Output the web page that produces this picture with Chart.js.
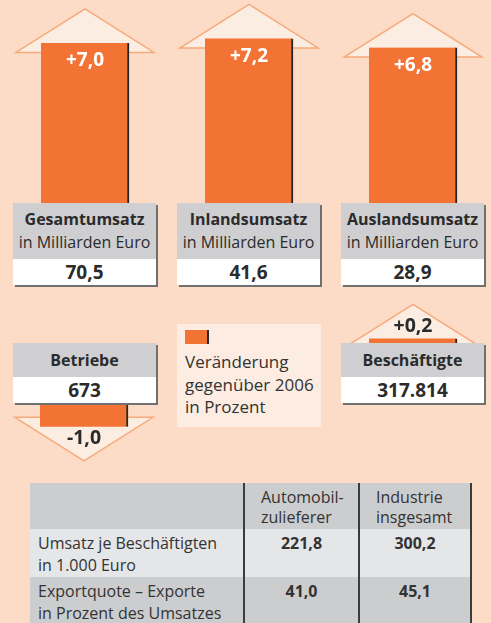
<!DOCTYPE html>
<html lang="de">
<head>
<meta charset="utf-8">
<script src="https://cdn.jsdelivr.net/npm/chart.js@4"></script>
<style>
  body { margin:0; width:491px; height:623px; overflow:hidden; position:relative;
         background:#fcdcc7; font-family:"Open Sans", sans-serif; color:#2b2b2b; }
  canvas { position:absolute; }
  .box { position:absolute; width:143px; text-align:center; box-shadow:2px 2px 0 #707070; }
  .box .head { background:#cfcfd1; }
  .box .title { font-weight:bold; font-size:16px; }
  .box .unit { font-size:16px; }
  .box .val { background:#fff; font-weight:bold; font-size:19px; height:26px; line-height:26px; }
  .legend { position:absolute; left:177px; top:324px; width:144px; height:103px; background:#fcece1; }
  .legend .swatch { position:absolute; left:8px; top:6px; width:22px; height:14px;
                    background:#f37334; border-right:2px solid #2a2a2a; }
  .legend .txt { position:absolute; left:8px; top:27px; font-size:17px; line-height:22.5px; color:#333; }
  table { position:absolute; left:30px; top:483px; border-collapse:collapse; font-size:16px; color:#333; }
  td { vertical-align:top; padding:0; }
  td.lab { padding:3px 0 0 8px; line-height:22px; white-space:pre-line; }
  td.num { text-align:center; font-weight:bold; padding-top:3px; line-height:22px; border-left:2px solid #3c3c3c; }
  td.hd { padding:4px 0 0 16px; line-height:20px; white-space:pre-line; border-left:2px solid #3c3c3c; }
  td.last { border-right:2px solid #3c3c3c; }
  tr.r0 { background:#cccdcf; height:46px; }
  tr.r1 { background:#e5e6e8; height:48px; }
  tr.r2 { background:#cccdcf; height:48px; }
</style>
</head>
<body>
<canvas id="topChart" width="492" height="203" style="left:3px;top:0"></canvas>
<canvas id="betriebeChart" width="168" height="70" style="left:0;top:404px"></canvas>
<canvas id="beschChart" width="168" height="44" style="left:329px;top:299px"></canvas>
<div id="boxes"></div>
<div class="legend"><div class="swatch"></div><div class="txt">Veränderung<br>gegenüber 2006<br>in Prozent</div></div>
<table id="tbl"></table>
<script>
// Umsatz
const topLabels = ['Gesamtumsatz', 'Inlandsumsatz', 'Auslandsumsatz'];
const topUnit = 'in Milliarden Euro';
const topTotals = [70.5, 41.6, 28.9];
const topChange = [7.0, 7.2, 6.8];

// Betriebe / Beschäftigte
const bottomLabels = ['Betriebe', 'Beschäftigte'];
const bottomTotals = [673, 317814];
const bottomChange = [-1.0, 0.2];

// Tabelle
const tableCols = ['Automobil-\nzulieferer', 'Industrie\ninsgesamt'];
const tableRows = ['Umsatz je Beschäftigten\nin 1.000 Euro', 'Exportquote – Exporte\nin Prozent des Umsatzes'];
const zuliefererValues = [221.8, 41.0];
const industrieValues = [300.2, 45.1];

const PX_PER_UNIT = 22.86;

function comma(v) { return v.toFixed(1).replace('.', ','); }
function signed(v) { return (v > 0 ? '+' : '') + comma(v); }
function thousands(v) { return String(v).replace(/\B(?=(\d{3})+(?!\d))/g, '.'); }

// arrow heads behind the bars + value labels
const arrowHeads = {
  id: 'arrowHeads',
  beforeDatasetsDraw(chart) {
    const ctx = chart.ctx;
    chart.getDatasetMeta(0).data.forEach(bar => {
      const dir = bar.y < bar.base ? -1 : 1;
      const baseY = bar.y - dir * 9.5;
      const tipY = bar.y + dir * 34;
      ctx.save();
      ctx.beginPath();
      ctx.moveTo(bar.x - 69, baseY);
      ctx.lineTo(bar.x, tipY);
      ctx.lineTo(bar.x + 69, baseY);
      ctx.closePath();
      ctx.fillStyle = '#fcede2';
      ctx.fill();
      ctx.strokeStyle = '#f6a97a';
      ctx.lineWidth = 1.5;
      ctx.stroke();
      ctx.restore();
    });
  },
  afterDatasetsDraw(chart) {
    const ctx = chart.ctx;
    const inside = chart.options.plugins.arrowHeads.inside;
    const vals = chart.data.datasets[0].data;
    chart.getDatasetMeta(0).data.forEach((bar, i) => {
      const dir = bar.y < bar.base ? -1 : 1;
      ctx.save();
      ctx.textAlign = 'center';
      ctx.textBaseline = 'middle';
      if (inside) {
        ctx.font = 'bold 19px "Open Sans"';
        ctx.fillStyle = '#ffffff';
        ctx.fillText(signed(vals[i]), bar.x, bar.y - dir * 18);
      } else {
        ctx.font = 'bold 19.5px "Open Sans"';
        ctx.fillStyle = '#2b2b2b';
        ctx.fillText(signed(vals[i]), bar.x, bar.y + dir * 11.5);
      }
      ctx.restore();
    });
  }
};

function arrowChart(id, labels, values, inside) {
  const canvas = document.getElementById(id);
  const span = canvas.height / PX_PER_UNIT;
  const neg = values[0] < 0;
  return new Chart(canvas.getContext('2d'), {
    type: 'bar',
    data: {
      labels: labels,
      datasets: [{
        data: values,
        backgroundColor: '#f37334',
        borderColor: '#262626',
        borderWidth: { top: 0, right: 2, bottom: 0, left: 0 },
        borderSkipped: false,
        barThickness: 88
      }]
    },
    options: {
      responsive: false,
      animation: false,
      layout: { padding: 0 },
      scales: {
        x: { display: false },
        y: { display: false, min: neg ? -span : 0, max: neg ? 0 : span }
      },
      plugins: {
        legend: { display: false },
        tooltip: { enabled: false },
        arrowHeads: { inside: inside }
      }
    },
    plugins: [arrowHeads]
  });
}

arrowChart('topChart', topLabels, topChange, true);
arrowChart('betriebeChart', [bottomLabels[0]], [bottomChange[0]], false);
arrowChart('beschChart', [bottomLabels[1]], [bottomChange[1]], false);

// boxes
const boxes = document.getElementById('boxes');
function addBox(left, top, headH, html, val) {
  const b = document.createElement('div');
  b.className = 'box';
  b.style.left = left + 'px';
  b.style.top = top + 'px';
  b.innerHTML = '<div class="head" style="height:' + headH + 'px">' + html + '</div><div class="val">' + val + '</div>';
  boxes.appendChild(b);
}
const topLeft = [13, 177, 341];
topLabels.forEach((l, i) => {
  addBox(topLeft[i], 203, 56,
    '<div class="title" style="padding-top:5px;line-height:23px">' + l + '</div><div class="unit" style="line-height:23px">' + topUnit + '</div>',
    comma(topTotals[i]));
});
const bottomLeft = [13, 341];
bottomLabels.forEach((l, i) => {
  addBox(bottomLeft[i], 343, 34,
    '<div class="title" style="line-height:34px">' + l + '</div>',
    thousands(bottomTotals[i]));
});

// table
const tbl = document.getElementById('tbl');
let html = '<tr class="r0"><td style="width:213px"></td>' +
  '<td class="hd" style="width:97px">' + tableCols[0] + '</td>' +
  '<td class="hd last" style="width:94px">' + tableCols[1] + '</td></tr>';
tableRows.forEach((r, i) => {
  html += '<tr class="r' + (i + 1) + '"><td class="lab">' + r + '</td>' +
    '<td class="num">' + comma(zuliefererValues[i]) + '</td>' +
    '<td class="num last">' + comma(industrieValues[i]) + '</td></tr>';
});
tbl.innerHTML = html;
</script>
</body>
</html>
